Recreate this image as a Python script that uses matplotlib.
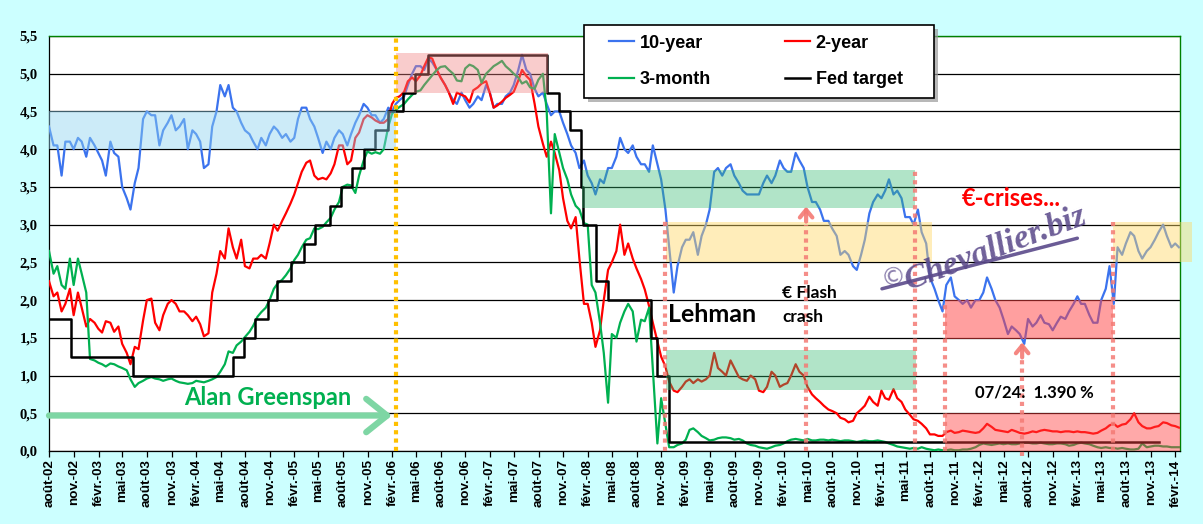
import matplotlib
matplotlib.use('Agg')
import matplotlib.pyplot as plt
import matplotlib.dates as mdates
from matplotlib.patches import Rectangle
import pandas as pd

# ---------------- data ----------------
dates = pd.date_range('2002-08-15', periods=278, freq='SMS')

ten_year = [
    4.30, 4.05, 4.05, 3.65, 4.10, 4.10, 4.00, 4.15, 4.10, 3.90, 4.15, 4.05,
    3.95, 3.85, 3.65, 4.10, 3.95, 3.90, 3.50, 3.35, 3.20, 3.55, 3.75, 4.40,
    4.50, 4.45, 4.45, 4.05, 4.25, 4.35, 4.45, 4.25, 4.30, 4.40, 4.00, 4.25,
    4.20, 4.10, 3.75, 3.80, 4.30, 4.50, 4.85, 4.70, 4.85, 4.55, 4.50, 4.35,
    4.25, 4.20, 4.10, 4.00, 4.15, 4.05, 4.20, 4.30, 4.25, 4.15, 4.20, 4.10,
    4.15, 4.40, 4.55, 4.55, 4.40, 4.30, 4.15, 3.95, 4.10, 4.00, 4.15, 4.25,
    4.20, 4.05, 4.20, 4.35, 4.45, 4.60, 4.55, 4.45, 4.45, 4.35, 4.40, 4.55,
    4.50, 4.60, 4.65, 4.70, 4.85, 5.00, 5.10, 5.10, 5.05, 5.20, 5.15, 5.05,
    4.95, 4.85, 4.75, 4.65, 4.60, 4.75, 4.65, 4.55, 4.60, 4.70, 4.65, 4.85,
    4.75, 4.55, 4.60, 4.60, 4.70, 4.75, 4.85, 5.05, 5.25, 5.05, 5.00, 4.80,
    4.70, 4.75, 4.60, 4.45, 4.50, 4.50, 4.35, 4.20, 4.05, 3.95, 3.75, 3.85,
    3.65, 3.55, 3.40, 3.60, 3.55, 3.75, 3.75, 3.90, 4.15, 4.00, 3.95, 4.05,
    3.90, 3.80, 3.80, 3.70, 4.05, 3.80, 3.60, 3.20, 2.70, 2.10, 2.45, 2.70,
    2.80, 2.80, 2.90, 2.60, 2.85, 3.00, 3.20, 3.70, 3.75, 3.65, 3.75, 3.80,
    3.65, 3.55, 3.45, 3.40, 3.40, 3.40, 3.40, 3.55, 3.65, 3.55, 3.65, 3.85,
    3.75, 3.70, 3.70, 3.95, 3.85, 3.75, 3.50, 3.30, 3.30, 3.20, 3.05, 3.05,
    2.95, 2.85, 2.60, 2.65, 2.60, 2.45, 2.40, 2.60, 2.80, 3.15, 3.30, 3.40,
    3.35, 3.45, 3.60, 3.40, 3.45, 3.35, 3.10, 3.10, 3.00, 3.20, 2.90, 2.75,
    2.30, 2.15, 2.00, 1.85, 2.20, 2.30, 2.05, 2.00, 1.95, 2.00, 1.90, 2.00,
    2.00, 2.10, 2.30, 2.15, 2.00, 1.90, 1.75, 1.55, 1.65, 1.60, 1.55, 1.42,
    1.75, 1.65, 1.70, 1.80, 1.70, 1.68, 1.60, 1.70, 1.78, 1.75, 1.85, 1.95,
    2.05, 1.95, 1.95, 1.80, 1.70, 1.70, 2.00, 2.15, 2.45, 1.95, 2.70, 2.60,
    2.75, 2.90, 2.85, 2.65, 2.55, 2.65, 2.70, 2.80, 2.90, 3.00, 2.85, 2.70,
    2.75, 2.70,
]

two_year = [
    2.25, 2.05, 2.10, 1.85, 1.95, 2.15, 1.80, 2.10, 1.90, 1.65, 1.75, 1.70,
    1.62, 1.57, 1.72, 1.70, 1.58, 1.65, 1.42, 1.30, 1.15, 1.38, 1.35, 1.73,
    2.00, 2.02, 1.70, 1.60, 1.80, 1.95, 2.00, 1.95, 1.85, 1.85, 1.80, 1.72,
    1.78, 1.68, 1.52, 1.56, 2.10, 2.35, 2.65, 2.55, 2.95, 2.70, 2.55, 2.80,
    2.45, 2.42, 2.55, 2.55, 2.60, 2.55, 2.75, 3.00, 2.92, 3.05, 3.15, 3.28,
    3.40, 3.55, 3.70, 3.82, 3.85, 3.65, 3.60, 3.62, 3.60, 3.68, 3.80, 4.05,
    4.05, 3.80, 3.85, 4.15, 4.22, 4.40, 4.45, 4.42, 4.38, 4.35, 4.35, 4.40,
    4.60, 4.68, 4.70, 4.76, 4.90, 4.95, 4.90, 4.98, 5.10, 5.22, 5.20, 5.05,
    4.95, 4.85, 4.75, 4.60, 4.75, 4.72, 4.70, 4.62, 4.78, 4.82, 4.87, 4.90,
    4.74, 4.55, 4.58, 4.63, 4.68, 4.72, 4.76, 4.91, 5.05, 4.97, 4.92, 4.60,
    4.30, 4.07, 3.90, 4.10, 3.95, 3.72, 3.35, 3.05, 2.95, 3.10, 2.55, 1.95,
    1.95, 1.70, 1.38, 1.60, 2.00, 2.40, 2.50, 2.65, 3.00, 2.60, 2.75, 2.55,
    2.42, 2.28, 2.14, 1.92, 1.70, 1.45, 1.25, 1.12, 0.92, 0.80, 0.78, 0.85,
    0.92, 0.95, 0.90, 0.95, 0.92, 0.95, 1.00, 1.30, 1.10, 1.05, 1.00, 1.20,
    1.10, 0.98, 0.95, 0.93, 1.00, 0.95, 0.80, 0.78, 0.85, 1.05, 1.00, 0.85,
    0.88, 0.90, 1.00, 1.15, 1.05, 1.00, 0.85, 0.75, 0.70, 0.65, 0.60, 0.55,
    0.53, 0.50, 0.44, 0.42, 0.38, 0.40, 0.50, 0.55, 0.60, 0.72, 0.65, 0.60,
    0.80, 0.70, 0.68, 0.82, 0.70, 0.65, 0.55, 0.48, 0.42, 0.40, 0.36, 0.30,
    0.22, 0.22, 0.20, 0.20, 0.25, 0.27, 0.24, 0.25, 0.27, 0.26, 0.25, 0.24,
    0.25, 0.30, 0.36, 0.32, 0.28, 0.27, 0.26, 0.25, 0.28, 0.26, 0.24, 0.23,
    0.24, 0.26, 0.25, 0.27, 0.28, 0.27, 0.26, 0.26, 0.25, 0.26, 0.26, 0.25,
    0.26, 0.25, 0.25, 0.24, 0.23, 0.24, 0.27, 0.30, 0.34, 0.36, 0.32, 0.35,
    0.36, 0.42, 0.50, 0.38, 0.33, 0.30, 0.30, 0.32, 0.33, 0.38, 0.37, 0.34,
    0.33, 0.31,
]

three_month = [
    2.65, 2.35, 2.45, 2.20, 2.15, 2.55, 2.20, 2.55, 2.35, 2.10, 1.22, 1.20,
    1.17, 1.15, 1.12, 1.16, 1.15, 1.12, 1.10, 1.07, 0.95, 0.85, 0.90, 0.93,
    0.96, 0.98, 0.96, 0.95, 0.93, 0.95, 0.96, 0.93, 0.91, 0.90, 0.89, 0.90,
    0.93, 0.92, 0.91, 0.93, 0.95, 0.98, 1.05, 1.15, 1.32, 1.30, 1.40, 1.45,
    1.51, 1.58, 1.66, 1.78, 1.84, 1.90, 2.00, 2.15, 2.22, 2.27, 2.33, 2.42,
    2.53, 2.60, 2.70, 2.80, 2.82, 2.95, 2.94, 2.97, 3.03, 3.09, 3.20, 3.30,
    3.50, 3.53, 3.52, 3.42, 3.65, 3.85, 3.97, 3.94, 3.96, 3.94, 4.00, 4.30,
    4.47, 4.52, 4.56, 4.60, 4.66, 4.72, 4.76, 4.78, 4.85, 4.92, 4.98, 5.05,
    5.09, 5.10, 5.05, 5.00, 4.91, 4.90, 5.07, 5.12, 5.10, 5.05, 4.88, 5.00,
    5.05, 5.10, 5.13, 5.17, 5.10, 5.05, 5.00, 4.95, 4.87, 4.90, 4.82, 4.80,
    4.92, 5.00, 4.50, 3.15, 4.20, 3.95, 3.75, 3.60, 3.40, 3.25, 3.20, 3.02,
    3.00, 2.20, 2.10, 1.70, 1.30, 0.64, 1.55, 1.50, 1.70, 1.85, 1.95, 1.85,
    1.45, 1.74, 1.72, 1.90, 1.08, 0.10, 0.70, 0.35, 0.05, 0.05, 0.08, 0.10,
    0.15, 0.28, 0.30, 0.25, 0.20, 0.17, 0.14, 0.15, 0.17, 0.18, 0.18, 0.17,
    0.15, 0.16, 0.14, 0.10, 0.08, 0.07, 0.05, 0.04, 0.03, 0.05, 0.07, 0.08,
    0.10, 0.13, 0.15, 0.16, 0.15, 0.14, 0.16, 0.14, 0.14, 0.15, 0.15, 0.14,
    0.15, 0.14, 0.13, 0.14, 0.14, 0.13, 0.12, 0.13, 0.14, 0.13, 0.13, 0.14,
    0.13, 0.12, 0.10, 0.08, 0.06, 0.05, 0.04, 0.03, 0.04, 0.03, 0.05, 0.03,
    0.02, 0.01, 0.02, 0.01, 0.01, 0.02, 0.01, 0.01, 0.02, 0.02, 0.03, 0.05,
    0.08, 0.10, 0.09, 0.08, 0.09, 0.10, 0.09, 0.10, 0.09, 0.09, 0.10, 0.11,
    0.11, 0.10, 0.10, 0.11, 0.10, 0.09, 0.09, 0.10, 0.10, 0.09, 0.07, 0.08,
    0.10, 0.11, 0.10, 0.09, 0.07, 0.05, 0.04, 0.05, 0.04, 0.04, 0.03, 0.04,
    0.03, 0.02, 0.02, 0.03, 0.10, 0.05, 0.06, 0.07, 0.07, 0.06, 0.06, 0.05,
    0.05, 0.05,
]

fed_dates = ['2002-08-15', '2002-11-06', '2003-06-25', '2004-06-30', '2004-08-10',
             '2004-09-21', '2004-11-10', '2004-12-14', '2005-02-02', '2005-03-22',
             '2005-05-03', '2005-06-30', '2005-08-09', '2005-09-20', '2005-11-01',
             '2005-12-13', '2006-01-31', '2006-03-28', '2006-05-10', '2006-06-29',
             '2007-09-18', '2007-10-31', '2007-12-11', '2008-01-22', '2008-01-30',
             '2008-03-18', '2008-04-30', '2008-10-08', '2008-10-29', '2008-12-16',
             '2013-12-15']
fed_levels = [1.75, 1.25, 1.00, 1.25, 1.50, 1.75, 2.00, 2.25, 2.50, 2.75, 3.00, 3.25,
              3.50, 3.75, 4.00, 4.25, 4.50, 4.75, 5.00, 5.25, 4.75, 4.50, 4.25, 3.50,
              3.00, 2.25, 2.00, 1.50, 1.00, 0.125, 0.125]

month_names = ['août', 'nov.', 'févr.', 'mai']
tick_dates = []
tick_labels = []
for i in range(47):
    mm = 8 + 3 * i
    yy = 2002 + (mm - 1) // 12
    mo = (mm - 1) % 12 + 1
    tick_dates.append(pd.Timestamp(year=yy, month=mo, day=16))
    tick_labels.append(f"{month_names[i % 4]}-{yy % 100:02d}")

series_names = ['10-year', '2-year', '3-month', 'Fed target']
series_colors = ['#3B73EE', '#FF0000', '#00B050', '#000000']

# ---------------- figure ----------------
W, H = 1203, 524
fig = plt.figure(figsize=(W / 100, H / 100), dpi=100)
fig.patch.set_facecolor('#CCFFFF')
ax = fig.add_axes([49 / W, 1 - 451 / H, (1180 - 49) / W, (451 - 36) / H])
ax.set_facecolor('white')

x_left = pd.Timestamp('2002-08-15')
x_right = pd.Timestamp('2014-03-05')
ax.set_xlim(x_left, x_right)
ax.set_ylim(0, 5.5)

yt = [i * 0.5 for i in range(12)]
ax.set_yticks(yt)
ax.set_yticklabels([f"{v:.1f}".replace('.', ',') for v in yt],
                   fontfamily='Liberation Serif', fontweight='bold', fontsize=10.5)
ax.tick_params(axis='y', length=0, pad=8)
ax.yaxis.grid(True, color='black', lw=0.9)
ax.set_axisbelow(True)

ax.set_xticks(tick_dates)
ax.set_xticklabels(tick_labels, rotation=90, fontfamily='Liberation Sans',
                   fontweight='bold', fontsize=9.7)
ax.tick_params(axis='x', direction='out', length=4, width=0.9, pad=2)

for s in ['left', 'bottom']:
    ax.spines[s].set_color('black')
    ax.spines[s].set_linewidth(0.9)
for s in ['top', 'right']:
    ax.spines[s].set_color('#008000')
    ax.spines[s].set_linewidth(1.0)

# series
l1, = ax.plot(dates, ten_year, color=series_colors[0], lw=1.6, zorder=3)
l2, = ax.plot(dates, two_year, color=series_colors[1], lw=1.6, zorder=3)
l3, = ax.plot(dates, three_month, color=series_colors[2], lw=1.6, zorder=3)
l4, = ax.step(pd.to_datetime(fed_dates), fed_levels, where='post',
              color=series_colors[3], lw=1.8, zorder=4)

D = lambda s: mdates.date2num(pd.Timestamp(s))

# translucent bands
bands = [
    ('2002-08-15', '2006-03-02', 4.00, 4.50, '#8FD3F0', 0.45, True),
    ('2006-03-02', '2007-09-20', 4.75, 5.27, '#F08080', 0.40, True),
    ('2008-01-25', '2011-06-20', 3.22, 3.73, '#33B870', 0.38, True),
    ('2008-12-03', '2011-08-22', 2.50, 3.03, '#FFD966', 0.45, True),
    ('2008-12-03', '2011-06-24', 0.81, 1.34, '#33B870', 0.38, True),
    ('2011-10-10', '2013-06-28', 1.48, 2.00, '#FF4040', 0.50, True),
    ('2011-10-10', '2014-03-05', 0.00, 0.50, '#FF4040', 0.45, True),
    ('2013-06-28', '2014-04-19', 2.50, 3.03, '#FFD966', 0.45, False),
]
for a, b, y0, y1, c, al, clip in bands:
    r = Rectangle((D(a), y0), D(b) - D(a), y1 - y0, facecolor=c, edgecolor='none',
                  alpha=al, zorder=5, clip_on=clip)
    ax.add_patch(r)

# vertical dotted markers
pink = '#F47A74'
dots = (0, (1, 1))
ax.plot([D('2006-03-02')] * 2, [0, 5.5], ls=dots, lw=3, color='#FFC000', zorder=6)
vlines = [('2008-12-01', 0, 3.05), ('2010-05-10', 0, 3.0), ('2011-06-20', 0, 3.74),
          ('2011-10-10', 0, 1.96), ('2013-06-28', 0, 3.03)]
for d, y0, y1 in vlines:
    ax.plot([D(d)] * 2, [y0, y1], ls=dots, lw=3, color=pink, alpha=0.85, zorder=6)
ax.plot([D('2012-07-24')] * 2, [-0.06, 1.25], ls=dots, lw=3, color=pink, alpha=0.85,
        zorder=6, clip_on=False)

for d, tip in [('2010-05-10', 3.24), ('2012-07-24', 1.44)]:
    ax.annotate('', xy=(D(d), tip), xytext=(D(d), tip - 0.2),
                arrowprops=dict(arrowstyle='->,head_length=0.55,head_width=0.45',
                                color=pink, lw=3, alpha=0.9, shrinkA=0, shrinkB=0),
                zorder=7)

# Greenspan arrow
ax.annotate('', xy=(D('2006-02-15'), 0.47), xytext=(D('2002-08-15'), 0.47),
            arrowprops=dict(arrowstyle='->,head_length=0.75,head_width=0.6',
                            color='#7ED6A4', lw=4.5, shrinkA=0, shrinkB=0,
                            mutation_scale=20), zorder=7)

# texts
ax.text(D('2004-11-09'), 0.71, 'Alan Greenspan', color='#00B050', fontsize=17,
        fontfamily='Lato', fontweight='bold', ha='center', va='center', zorder=8)
ax.text(D('2008-12-10'), 1.81, 'Lehman', color='black', fontsize=18,
        fontfamily='Lato', fontweight='bold', ha='left', va='center', zorder=8)
ax.text(D('2010-02-09'), 2.10, '€ Flash', color='black', fontsize=12.5,
        fontfamily='Lato', fontweight='bold', ha='left', va='center', zorder=8)
ax.text(D('2010-02-09'), 1.78, 'crash', color='black', fontsize=12.5,
        fontfamily='Lato', fontweight='bold', ha='left', va='center', zorder=8)
ax.text(D('2011-12-10'), 3.35, '€-crises...', color='#FF0000', fontsize=17,
        fontfamily='Lato', fontweight='bold', ha='left', va='center', zorder=8)
ax.text(D('2012-01-30'), 0.78, '07/24:  1.390 %', color='black', fontsize=12,
        fontfamily='Lato', fontweight='bold', ha='left', va='center', zorder=8)

# watermark
wm = '#5B4A8B'
ax.text(D('2011-05-29'), 2.13, 'Chevallier.biz', color=wm, fontsize=24.5,
        fontfamily='Liberation Serif', fontstyle='italic', fontweight='bold',
        rotation=20.5, rotation_mode='anchor', ha='left', va='baseline',
        alpha=0.88, zorder=8)
ax.text(D('2011-04-01'), 2.30, '©', color=wm, fontsize=18, fontfamily='DejaVu Sans',
        rotation=15, rotation_mode='anchor', ha='center', va='center',
        alpha=0.7, zorder=8)
ax.plot([D('2011-02-17'), D('2013-02-15')], [2.15, 2.82], color=wm, lw=2.5,
        alpha=0.9, zorder=8, solid_capstyle='round')

# legend box with shadow
bx0, by0, bw, bh = 584 / W, 1 - 98 / H, 350 / W, 73 / H
fig.patches.append(Rectangle((bx0 + 4 / W, by0 - 4 / H), bw, bh, transform=fig.transFigure,
                             facecolor='#9A9A9A', edgecolor='none', alpha=0.7, zorder=20))
fig.patches.append(Rectangle((bx0, by0), bw, bh, transform=fig.transFigure,
                             facecolor='white', edgecolor='black', lw=1.2, zorder=21))
leg = fig.legend([l1, l3, l2, l4],
                 [series_names[0], series_names[2], series_names[1], series_names[3]],
                 loc='center', bbox_to_anchor=(756 / W, 1 - 61.5 / H),
                 bbox_transform=fig.transFigure, ncol=2, frameon=False,
                 prop={'family': 'Liberation Sans', 'weight': 'bold', 'size': 13},
                 handlelength=1.4, handletextpad=0.3, columnspacing=4.1,
                 labelspacing=1.1, borderpad=0.2)
leg.set_zorder(22)

fig.savefig('out.png', dpi=100, facecolor=fig.get_facecolor())
